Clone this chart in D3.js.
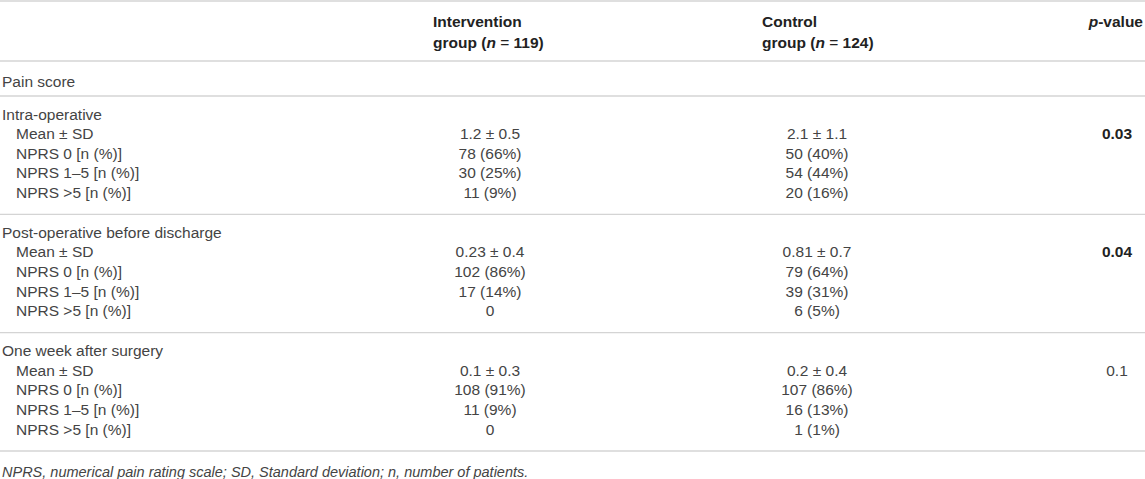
<!DOCTYPE html>
<html>
<head>
<meta charset="utf-8">
<script src="https://cdn.jsdelivr.net/npm/d3@7"></script>
<style>
  body { margin: 0; background: #fff; }
  svg text { font-family: "Liberation Sans", Arial, sans-serif; font-size: 15.5px; fill: #333; }
  .light { fill: #444; }
  .bold { font-weight: bold; fill: #222; }
</style>
</head>
<body>
<svg></svg>
<script>
var svgWidth = 1145, svgHeight = 479;

// table content
var sections = ["Intra-operative", "Post-operative before discharge", "One week after surgery"];
var rowLabels = ["Mean \u00b1 SD", "NPRS 0 [n (%)]", "NPRS 1\u20135 [n (%)]", "NPRS >5 [n (%)]"];
var intervention = [
  ["1.2 \u00b1 0.5", "78 (66%)", "30 (25%)", "11 (9%)"],
  ["0.23 \u00b1 0.4", "102 (86%)", "17 (14%)", "0"],
  ["0.1 \u00b1 0.3", "108 (91%)", "11 (9%)", "0"]
];
var control = [
  ["2.1 \u00b1 1.1", "50 (40%)", "54 (44%)", "20 (16%)"],
  ["0.81 \u00b1 0.7", "79 (64%)", "39 (31%)", "6 (5%)"],
  ["0.2 \u00b1 0.4", "107 (86%)", "16 (13%)", "1 (1%)"]
];
var pValues = ["0.03", "0.04", "0.1"];
var pBold = [true, true, false];
var footnote = "NPRS, numerical pain rating scale; SD, Standard deviation; n, number of patients.";

var svg = d3.select("svg")
    .attr("width", svgWidth)
    .attr("height", svgHeight);

// column positions
var colX = d3.scaleOrdinal()
    .domain(["label", "indent", "intervention", "control", "p"])
    .range([2, 16, 490, 817, 1117]);

// each section is a band, rows step inside it
var sectionY = d3.scaleBand()
    .domain(sections)
    .range([96, 451]);
var rowY = d3.scaleLinear()
    .domain([-1, 3])
    .range([18, 96.4]);

var base = 5.5; // text center -> baseline

// rules
var rules = [1, 61, 96].concat(sections.map(s => sectionY(s) + sectionY.bandwidth()));
svg.selectAll("line.rule")
  .data(rules)
  .enter()
  .append("line")
  .attr("class", "rule")
  .attr("x1", 0)
  .attr("x2", svgWidth)
  .attr("y1", d => d)
  .attr("y2", d => d)
  .attr("stroke", "#d4d4d4")
  .attr("stroke-width", 1.3);

// header
var head = svg.append("g");
function groupHead(x, first, n) {
  head.append("text").attr("class", "bold").attr("x", x).attr("y", 21 + base).text(first);
  var t = head.append("text").attr("class", "bold").attr("x", x).attr("y", 48);
  t.append("tspan").text("group (");
  t.append("tspan").style("font-style", "italic").text("n");
  t.append("tspan").style("font-weight", "normal").text(" = ");
  t.append("tspan").text(n + ")");
}
groupHead(433, "Intervention", 119);
groupHead(762, "Control", 124);
var ph = head.append("text").attr("class", "bold").attr("x", 1143).attr("y", 21 + base)
    .attr("text-anchor", "end");
ph.append("tspan").style("font-style", "italic").text("p");
ph.append("tspan").text("-value");

svg.append("text").attr("class", "light")
  .attr("x", colX("label")).attr("y", 81 + base).text("Pain score");

// sections
var sec = svg.selectAll("g.section")
  .data(sections)
  .enter()
  .append("g")
  .attr("class", "section")
  .attr("transform", d => "translate(0," + sectionY(d) + ")");

sec.append("text").attr("class", "light")
  .attr("x", colX("label"))
  .attr("y", rowY(-1) + base)
  .text(d => d);

sec.each(function(s, si) {
  var g = d3.select(this);
  var rows = rowLabels.map((lab, i) => ({ lab: lab, a: intervention[si][i], b: control[si][i], i: i }));
  var r = g.selectAll("g.row")
    .data(rows)
    .enter()
    .append("g")
    .attr("transform", d => "translate(0," + (rowY(d.i) + base) + ")");
  r.append("text").attr("class", "light").attr("x", colX("indent")).text(d => d.lab);
  r.append("text").attr("class", "light").attr("x", colX("intervention"))
    .attr("text-anchor", "middle").text(d => d.a);
  r.append("text").attr("class", "light").attr("x", colX("control"))
    .attr("text-anchor", "middle").text(d => d.b);

  g.append("text")
    .attr("class", pBold[si] ? "bold" : "light")
    .attr("x", colX("p"))
    .attr("y", rowY(0) + base)
    .attr("text-anchor", "middle")
    .text(pValues[si]);
});

svg.append("text").attr("class", "light")
  .attr("x", colX("label")).attr("y", 476.5)
  .style("font-style", "italic")
  .style("font-size", "14.5px")
  .text(footnote);
</script>
</body>
</html>
